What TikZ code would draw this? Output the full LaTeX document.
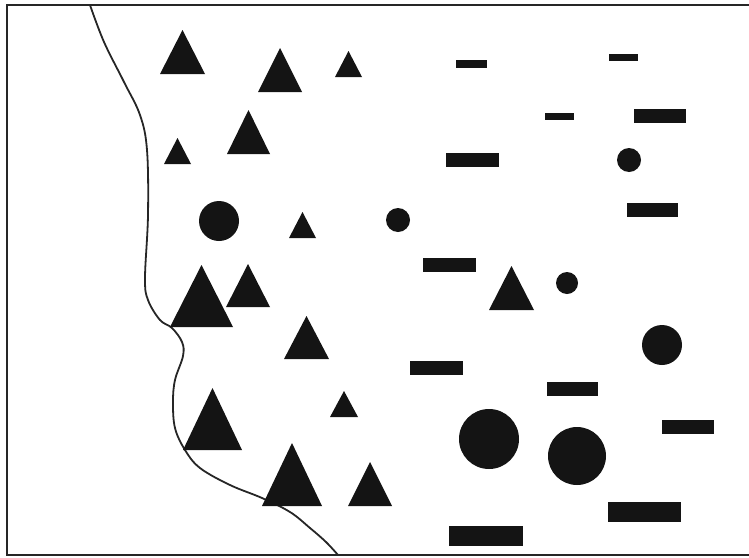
\documentclass[tikz,border=0pt]{standalone}
\usetikzlibrary{calc}
\tikzset{
  frameline/.style={line width=2.4pt, black!85},
  coast/.style={line width=1.8pt, black!85, line cap=round},
  tri/.style={fill=black!92, draw=none},
  dot/.style={fill=black!92, draw=none},
  bar/.style={fill=black!92, draw=none}
}

\begin{document}
\begin{tikzpicture}[x=1pt,y=-1pt]
  \useasboundingbox (0,0) rectangle (749,557);
  % frame, open on the right
  \draw[frameline] (749,5) -- (7,5) -- (7,555) -- (749,555);
  % boundary line
  \draw[coast] plot[smooth, tension=0.6] coordinates {
    (90,5) (104,42) (124,82) (140,115) (147,150) (148,215) (145,278)
    (148,300) (160,320) (172,328) (182,342) (183,356) (175,380) (173,402)
    (175,428) (185,450) (200,468) (230,485) (262,498) (290,512) (310,528)
    (326,542) (338,555)};
  % triangles: left/right/base/apex
  \foreach \l/\r/\b/\t in {160/205/74/30, 258/302/92/48, 335/362/77/51,
    164/191/164/138, 227/270/154/110, 289/316/238/212,
    170/233/327/265, 226/270/307/264, 284/329/359/316, 330/358/417/391,
    183/242/450/388, 262/322/506/443, 348/392/506/462, 489/534/310/266}{
    \fill[tri] (\l,\b) -- (\r,\b) -- ({(\l+\r)/2},\t) -- cycle;
  }
  % dots: x/y/radius
  \foreach \x/\y/\r in {219/221/20, 629/160/12, 398/220/12, 567/283/11,
    662/345/20, 489/439/30, 577/456/29}{
    \fill[dot] (\x,\y) circle (\r);
  }
  % bars
  \foreach \xa/\ya/\xb/\yb in {456/60/487/68, 609/54/638/61, 545/113/574/120,
    634/109/686/123, 446/153/499/167, 627/203/678/217, 423/258/476/272,
    410/361/463/375, 547/382/598/396, 662/420/714/434, 608/502/681/522,
    449/526/523/546}{
    \fill[bar] (\xa,\ya) rectangle (\xb,\yb);
  }
\end{tikzpicture}
\end{document}
